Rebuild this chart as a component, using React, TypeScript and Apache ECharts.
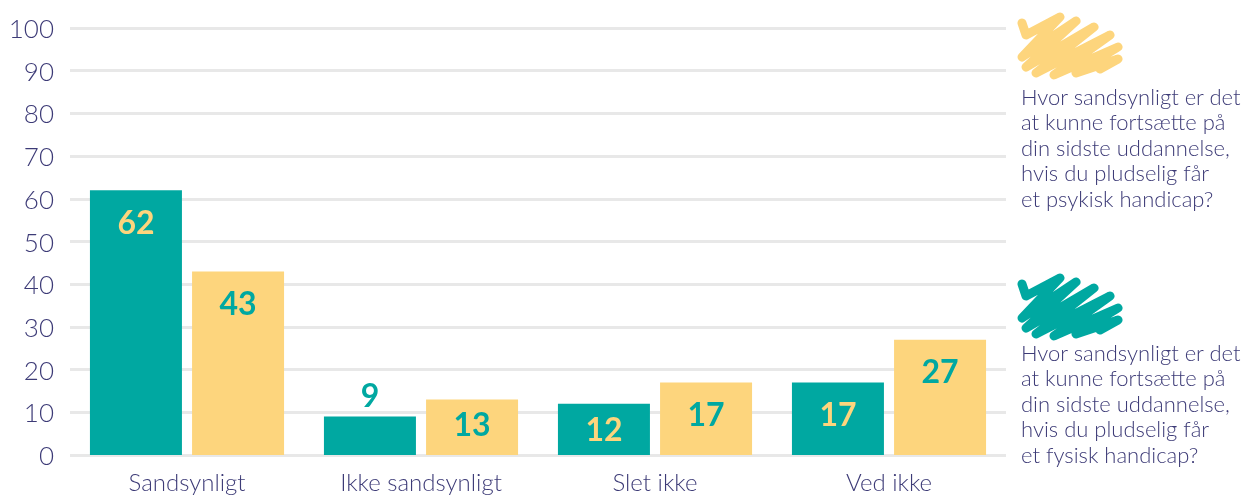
import React, { useEffect, useRef } from "react";
import * as echarts from "echarts";

const categories = ["Sandsynligt", "Ikke sandsynligt", "Slet ikke", "Ved ikke"];
const fysisk = [62, 9, 12, 17];
const psykisk = [43, 13, 17, 27];
const yTicks = { min: 0, max: 100, interval: 10 };
const legendPsykisk = [
  "Hvor sandsynligt er det",
  "at kunne fortsætte på",
  "din sidste uddannelse,",
  "hvis du pludselig får",
  "et psykisk handicap?",
];
const legendFysisk = [
  "Hvor sandsynligt er det",
  "at kunne fortsætte på",
  "din sidste uddannelse,",
  "hvis du pludselig får",
  "et fysisk handicap?",
];

const TEAL = "#00a8a1";
const YELLOW = "#fdd57d";
const TEXT = "#3d3b77";
const FONT = "Lato, 'Source Sans Pro', 'Open Sans', sans-serif";

function scribble(x0: number, y0: number) {
  const pts: number[][] = [
    [8, 8], [12, 20], [46, 2], [8, 42], [62, 6], [12, 52], [80, 12],
    [22, 58], [96, 20], [40, 60], [104, 32], [62, 58], [104, 44], [86, 54],
  ];
  return pts.map(([x, y]) => [x0 + x, y0 + y]);
}

export default function App() {
  const ref = useRef<HTMLDivElement>(null);
  useEffect(() => {
    document.body.style.margin = "0";
    const chart = echarts.init(ref.current!, null, { renderer: "svg" });
    const labelBase = {
      show: true,
      position: "insideTop" as const,
      distance: 15,
      fontSize: 32,
      fontWeight: "bold" as const,
      fontFamily: FONT,
    };
    const legendText = (lines: string[], top: number) =>
      lines.map((t, i) => ({
        type: "text",
        left: 1021,
        top: top + i * 25.6,
        style: { text: t, fill: TEXT, font: `300 22px ${FONT}` },
      }));
    const scribbleStyle = (c: string) => ({
      stroke: c,
      lineWidth: 9,
      fill: "none",
      lineCap: "round",
      lineJoin: "round",
    });
    chart.setOption({
      animation: false,
      grid: { left: 70, right: 242, top: 28, bottom: 40, containLabel: false },
      xAxis: {
        type: "category",
        data: categories,
        axisLine: { show: false },
        axisTick: { show: false },
        axisLabel: { color: TEXT, fontSize: 24, fontWeight: 300, fontFamily: FONT, margin: 14 },
      },
      yAxis: {
        type: "value",
        min: yTicks.min,
        max: yTicks.max,
        interval: yTicks.interval,
        axisLine: { show: false },
        axisTick: { show: false },
        axisLabel: { color: TEXT, fontSize: 26, fontWeight: 300, fontFamily: FONT, margin: 16 },
        splitLine: { lineStyle: { color: "#e8e8e8", width: 3 } },
      },
      series: [
        {
          name: "fysisk",
          type: "bar",
          barWidth: 92,
          barGap: "11%",
          itemStyle: { color: TEAL },
          label: { ...labelBase, color: YELLOW },
          data: fysisk.map((v, i) =>
            i === 1
              ? { value: v, label: { position: "top", color: TEAL, distance: 6 } }
              : i === 2
              ? { value: v, label: { distance: 9 } }
              : { value: v }
          ),
        },
        {
          name: "psykisk",
          type: "bar",
          barWidth: 92,
          itemStyle: { color: YELLOW },
          label: { ...labelBase, color: TEAL },
          data: psykisk.map((v, i) => (i === 1 ? { value: v, label: { distance: 8 } } : { value: v })),
        },
      ],
      graphic: [
        { type: "polyline", shape: { points: scribble(1014, 15) }, style: scribbleStyle(YELLOW) },
        { type: "polyline", shape: { points: scribble(1014, 276) }, style: scribbleStyle(TEAL) },
        ...legendText(legendPsykisk, 85),
        ...legendText(legendFysisk, 341),
      ],
    });
    return () => chart.dispose();
  }, []);
  return <div ref={ref} style={{ position: "fixed", left: 0, top: 0, width: 1248, height: 495 }} />;
}
